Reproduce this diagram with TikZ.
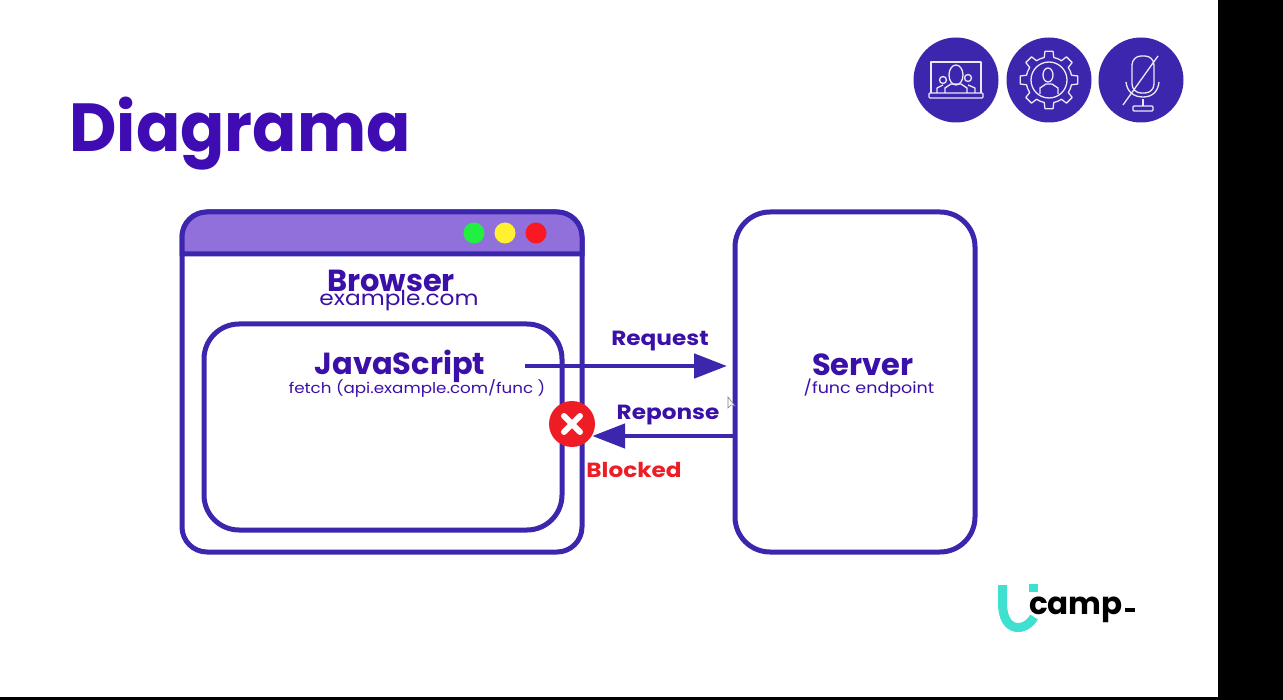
\documentclass[tikz,border=0pt]{standalone}
\usepackage{fontspec}
\setmainfont{Poppins}
\newfontfamily\widefont[FakeStretch=1.13]{Poppins}
\usepackage{xcolor}
\usetikzlibrary{arrows.meta}
\definecolor{TitleViolet}{HTML}{3F0CB4}
\definecolor{LineViolet}{HTML}{3D26AE}
\definecolor{HeaderViolet}{HTML}{9270DC}
\definecolor{TextViolet}{HTML}{3A10A8}
\definecolor{BadRed}{HTML}{EE1C25}
\definecolor{LogoTeal}{HTML}{3FE0D0}
\definecolor{BtnGreen}{HTML}{22F040}
\definecolor{BtnYellow}{HTML}{FFF030}
\definecolor{BtnRed}{HTML}{FB1822}
\tikzset{
  panelbox/.style={draw=LineViolet, line width=5pt, rectangle, inner sep=0pt, outer sep=0pt},
  flowarrow/.style={draw=LineViolet, line width=4.8pt, -{Triangle[length=33pt, width=24pt]}},
  bigtext/.style={text=TextViolet, font=\bfseries\fontsize{30.5}{30}\selectfont, inner sep=0pt},
  smalltext/.style={text=TextViolet, font=\widefont\fontsize{15.5}{16}\selectfont, inner sep=0pt},
  arrowtext/.style={text=TextViolet, font=\widefont\bfseries\fontsize{20.5}{20}\selectfont, inner sep=0pt},
  iconline/.style={draw=white!90!LineViolet, line width=1.3pt, line join=round},
  icondisc/.style={circle, fill=LineViolet, minimum size=85pt, inner sep=0pt},
  winbtn/.style={circle, minimum size=21pt, inner sep=0pt},
}
\begin{document}
\begin{tikzpicture}[x=1pt, y=-1pt]
  \useasboundingbox (0,0) rectangle (1283,700);
  \fill[white] (0,0) rectangle (1283,700);
  \fill[black] (1218,0) rectangle (1283,700);
  \fill[black] (0,697) rectangle (1283,700);

  \node[text=TitleViolet, font=\bfseries\fontsize{68}{68}\selectfont, inner sep=0pt] (title) at (240,134) {\scalebox{0.96}[1]{Diagrama}};

  % icons
  \node[icondisc] (iconA) at (956,80) {};
  \node[icondisc] (iconB) at (1049,80) {};
  \node[icondisc] (iconC) at (1141,80) {};
  % laptop and people
  \draw[iconline] (931,93) -- (931,62) -- (981,62) -- (981,93);
  \draw[iconline, rounded corners=1pt] (929,93) rectangle (983,98);
  \draw[iconline] (956,75) ellipse (7 and 10);
  \draw[iconline] (945,93) -- (945,88) -- (951,84) -- (961,84) -- (967,88) -- (967,93);
  \draw[iconline] (943,80) circle (3.5);
  \draw[iconline] (968,78) circle (3.5);
  \draw[iconline] (937,93) -- (937,88) -- (943,85);
  \draw[iconline] (975,93) -- (975,88) -- (968,85);
  % gear and person
  \begin{scope}[shift={(1049,80)}]
    \draw[iconline] (0,0) circle (18);
    \foreach \a in {0,45,...,315}{
      \draw[iconline] (\a-22.5:23) -- (\a-12:23) -- (\a-8:29) -- (\a+8:29) -- (\a+12:23) -- (\a+22.5:23);
    }
    \draw[iconline] (-1,-5) ellipse (5 and 7);
    \draw[iconline] (-9,14) -- (-9,8) -- (-3,4) -- (3,4) -- (9,8) -- (9,14);
  \end{scope}
  % mic with slash
  \draw[iconline, rounded corners=9pt] (1132,56) rectangle (1154,93);
  \draw[iconline] (1126,82) .. controls (1127,92) and (1134,97) .. (1143,97) .. controls (1152,97) and (1158,92) .. (1159,82);
  \draw[iconline] (1123,105) -- (1158,56);
  \draw[iconline] (1143,99) -- (1143,106);
  \draw[iconline, rounded corners=1pt] (1133,106) rectangle (1153,111);

  % browser window
  \node[panelbox, rounded corners=25pt, minimum width=400pt, minimum height=340pt] (browser) at (382,382) {};
  \draw[LineViolet, line width=5pt, fill=HeaderViolet] (182,254) [rounded corners=25pt] -- (182,212) -- (582,212) [sharp corners] -- (582,254) -- cycle;
  \node[winbtn, fill=BtnGreen] (btnGreen) at (474,233) {};
  \node[winbtn, fill=BtnYellow] (btnYellow) at (505,233) {};
  \node[winbtn, fill=BtnRed] (btnRed) at (536,233) {};
  \node[bigtext] (browserTitle) at (391,281) {Browser};
  \node[smalltext, font=\widefont\fontsize{20.6}{20}\selectfont] (browserUrl) at (399,301) {example.com};

  % script box
  \node[panelbox, rounded corners=35pt, minimum width=358pt, minimum height=206pt] (script) at (383,427) {};
  \node[bigtext] (scriptTitle) at (400,366) {JavaScript};
  \node[smalltext, font=\widefont\fontsize{14.8}{15}\selectfont] (scriptCall) at (417,388) {fetch (api.example.com/func )};

  % server
  \node[panelbox, rounded corners=35pt, minimum width=240pt, minimum height=340pt] (server) at (855,382) {};
  \node[bigtext] (serverTitle) at (863,365) {Server};
  \node[smalltext] (serverPath) at (869,388) {/func endpoint};

  % blocked mark
  \node[circle, fill=BadRed, minimum size=46pt, inner sep=0pt] (blockMark) at (572,424) {};
  \draw[white, line width=6pt, line cap=round] (564,416) -- (580,432);
  \draw[white, line width=6pt, line cap=round] (580,416) -- (564,432);

  % arrows
  \coordinate (reqStart) at (525,366);
  \coordinate (respLevel) at (700,436);
  \draw[flowarrow, shorten >=8pt] (reqStart) -- (server.west |- reqStart);
  \draw[flowarrow, shorten >=-3pt] (server.west |- respLevel) -- (blockMark.east |- respLevel);
  \node[arrowtext] (reqLabel) at (660,341) {Request};
  \node[arrowtext] (respLabel) at (668,415) {Reponse};
  \node[arrowtext, text=BadRed] (blockLabel) at (634,470) {Blocked};

  % cursor
  \draw[gray, fill=white, line width=0.6pt] (728,397) -- (728,408) -- (731,405) -- (735,406) -- cycle;

  % logo
  \draw[LogoTeal, line width=9pt] (1002.5,585) -- (1002.5,603) .. controls (1002.5,634) and (1026,632) .. (1034,617);
  \fill[LogoTeal] (1029,584) rectangle (1038,592);
  \node[text=black, font=\bfseries\fontsize{31}{31}\selectfont, inner sep=0pt] (logoText) at (1076,610) {camp};
  \fill[black] (1125,608) rectangle (1135,612);
\end{tikzpicture}
\end{document}
